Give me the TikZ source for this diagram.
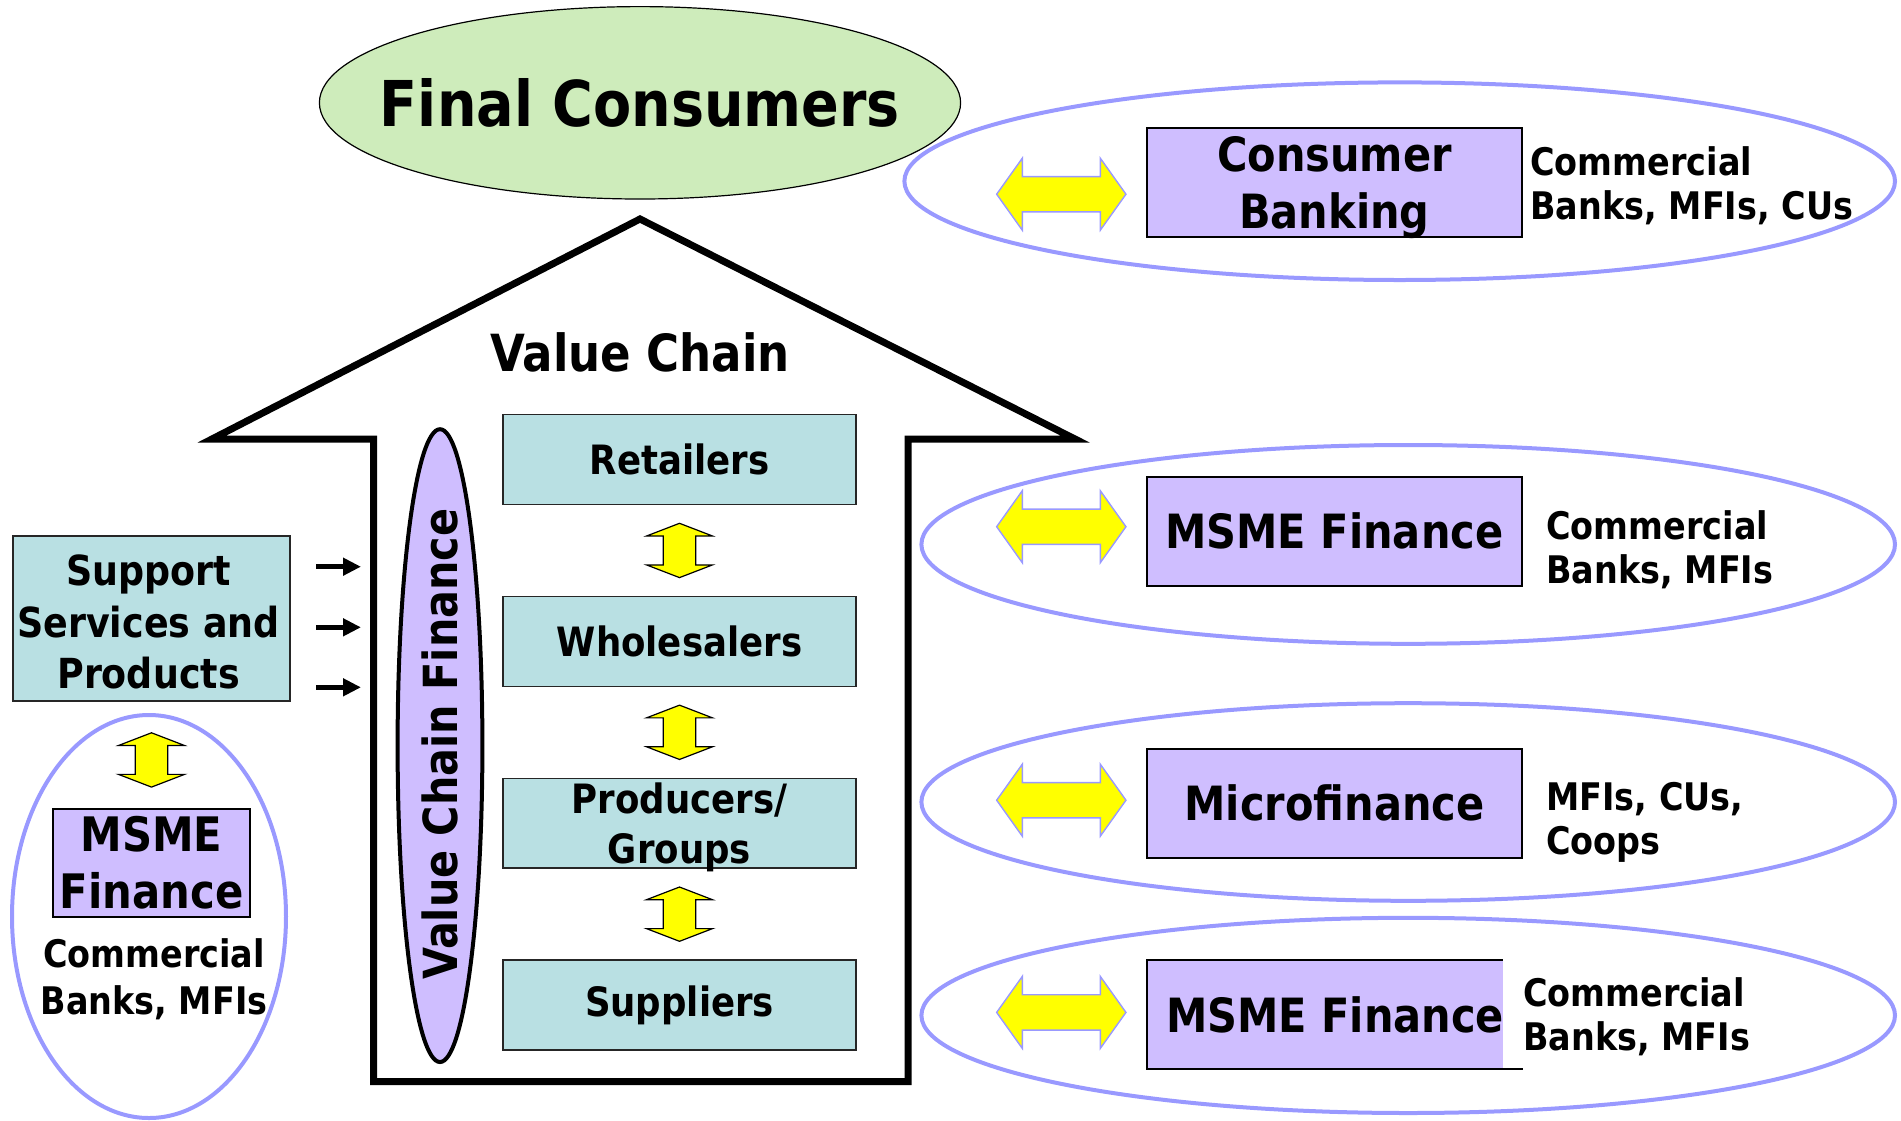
\documentclass[tikz,border=0pt]{standalone}
\usepackage{fontspec}
\setmainfont{DejaVu Sans}[FakeStretch=0.88]
\usetikzlibrary{shapes.geometric,arrows.meta,calc,backgrounds}
\definecolor{tealbox}{RGB}{185,224,227}
\definecolor{lav}{RGB}{207,190,255}
\definecolor{fcgreen}{RGB}{206,236,187}
\definecolor{ellblue}{RGB}{153,153,255}
\definecolor{arryel}{RGB}{255,255,0}
\begin{document}
\begin{tikzpicture}[x=0.5pt,y=-0.5pt,
  chainbox/.style={draw=black!85, line width=0.8pt, fill=tealbox, minimum width=176.5pt, minimum height=44.9pt, inner sep=0pt, align=center, font=\bfseries\fontsize{20.2}{25}\selectfont},
  finbox/.style={draw=black, line width=1pt, fill=lav, minimum width=187.3pt, minimum height=54.3pt, inner sep=0pt, align=center, font=\bfseries\fontsize{23.6}{28.5}\selectfont},
  fintext/.style={inner sep=0pt, align=center, font=\bfseries\fontsize{23.6}{28.5}\selectfont},
  finring/.style={ellipse, draw=ellblue, line width=2pt, inner sep=0pt},
  provtext/.style={anchor=west, align=left, inner sep=0pt, font=\bfseries\fontsize{19}{22}\selectfont},
  smallarr/.style={line width=2.5pt, -{Triangle[length=9pt,width=8.5pt]}},
  vdarr/.pic={\draw[fill=arryel, draw=black, line width=0.6pt, line join=miter]
     (0,-27.15) -- (33,-14.45) -- (16.2,-14.45) -- (16.2,14.45) -- (33,14.45) -- (0,27.15)
     -- (-33,14.45) -- (-16.2,14.45) -- (-16.2,-14.45) -- (-33,-14.45) -- cycle;},
  hdarr/.pic={\draw[fill=arryel, draw=ellblue, line width=0.7pt, line join=miter]
     (-64.65,0) -- (-39,-36) -- (-39,-17.65) -- (39,-17.65) -- (39,-36) -- (64.65,0)
     -- (39,36) -- (39,17.65) -- (-39,17.65) -- (-39,36) -- cycle;}
]
\useasboundingbox (0,0) rectangle (1901,1120);

% Final consumers
\node (fc) [ellipse, draw=black, line width=0.6pt, fill=fcgreen, minimum width=320.6pt, minimum height=96.2pt, inner sep=0pt] at (640,102.8) {};
\node (fctext) [inner sep=0pt, font=\bfseries\fontsize{31.6}{36}\selectfont] at (fc.center) {Final Consumers};

% House-shaped value chain arrow
\draw[line width=3.5pt, line join=miter, miter limit=20]
  (212,439) -- (640,219) -- (1075,439) -- (908,439) -- (908,1081.5) -- (373.5,1081.5) -- (373.5,439) -- cycle;
\node (vc) [inner sep=0pt, font=\bfseries\fontsize{25.6}{30}\selectfont] at (640,352) {Value Chain};

% Value chain finance
\node (vcf) [ellipse, draw=black, line width=2pt, fill=lav, minimum width=42.4pt, minimum height=316.4pt, inner sep=0pt] at (440,745.6) {};
\node (vcftext) [rotate=90, inner sep=0pt, font=\bfseries\fontsize{23.5}{28}\selectfont] at ($(vcf.center)+(0,-1.5)$) {Value Chain Finance};

% Chain boxes
\node (ret) [chainbox] at (679.5,459.5) {Retailers};
\node (whl) [chainbox] at (679.5,641.4) {Wholesalers};
\node (pro) [chainbox] at (679.5,823.2) {};
\node (protext) [inner sep=0pt, align=center, font=\bfseries\fontsize{20.2}{25}\selectfont] at ($(pro.center)+(0,4)$) {Producers/\\Groups};
\node (sup) [chainbox] at (679.5,1005.1) {Suppliers};
\path ($(ret.south)!0.5!(whl.north)$) pic {vdarr};
\path ($(whl.south)!0.5!(pro.north)$) pic {vdarr};
\path ($(pro.south)!0.5!(sup.north)$) pic {vdarr};

% Support services
\node (svc) [draw=black!85, line width=0.8pt, fill=tealbox, minimum width=138.25pt, minimum height=82.4pt, inner sep=0pt] at (151.5,618.4) {};
\node (svctext) [inner sep=0pt, align=center, font=\bfseries\fontsize{20.7}{25.75}\selectfont] at ($(svc.center)+(-3,4)$) {Support\\Services and\\Products};
\coordinate (s1a) at (316,566.7); \coordinate (s1b) at (361,566.7);
\coordinate (s2a) at (316,627.3); \coordinate (s2b) at (361,627.3);
\coordinate (s3a) at (316,687.3); \coordinate (s3b) at (361,687.3);
\draw[smallarr] (s1a) -- (s1b);
\draw[smallarr] (s2a) -- (s2b);
\draw[smallarr] (s3a) -- (s3b);

% Left MSME
\node (lring) [finring, minimum width=137pt, minimum height=201.5pt] at (149,916.5) {};
\node (lm) [draw=black, line width=1pt, fill=lav, minimum width=98.25pt, minimum height=53.95pt, inner sep=0pt, align=center,
  font=\bfseries\fontsize{23.75}{28.5}\selectfont] at (151.5,862.6) {MSME\\Finance};
\path ($(svc.south)!0.55!(lm.north)$) pic {vdarr};
\node (lprov) [inner sep=0pt, align=center, font=\bfseries\fontsize{19}{23.75}\selectfont] at (154,979) {Commercial\\Banks, MFIs};

% Right side rings
\node (r1) [finring, minimum width=495.3pt, minimum height=98.8pt] at (1399.7,181.2) {};
\node (r2) [finring, minimum width=486.8pt, minimum height=99.4pt] at (1408.2,544.4) {};
\node (r3) [finring, minimum width=486.8pt, minimum height=98.8pt] at (1408.2,802) {};
\node (r4) [finring, minimum width=486.8pt, minimum height=97.6pt] at (1408.2,1015.4) {};

\node (b1) [finbox] at (1334.4,182.2) {};
\node (b1text) [fintext] at ($(b1.center)+(0,5)$) {Consumer\\Banking};
\node (b2) [finbox] at (1334.4,531.2) {MSME Finance};
\node (b3) [finbox] at (1334.4,803.2) {Microfinance};
\node (b4) [inner sep=0pt, minimum width=187.8pt, minimum height=54pt, font=\bfseries\fontsize{23.6}{28.5}\selectfont] at (1335,1014.8) {MSME Finance};
\begin{scope}[on background layer]
  \fill[lav] (b4.north west) rectangle ($(b4.south west)+(355.7,0)$);
\end{scope}
\draw[line width=1pt] ($(b4.north west)+(355.7,0)$) -- (b4.north west) -- (b4.south west) -- (b4.south east);

\path (1061.3,194.2) pic {hdarr};
\path (1061.3,526.7) pic {hdarr};
\path (1061.3,800.2) pic {hdarr};
\path (1061.3,1012.4) pic {hdarr};

\node (p1) [provtext] at (1530,185.5) {Commercial\\Banks, MFIs, CUs};
\node (p2) [provtext] at (1546,549.3) {Commercial\\Banks, MFIs};
\node (p3) [provtext] at (1546,822.5) {MFIs, CUs,\\Coops};
\node (p4) [provtext] at (1522.8,1016.6) {Commercial\\Banks, MFIs};
\end{tikzpicture}
\end{document}
